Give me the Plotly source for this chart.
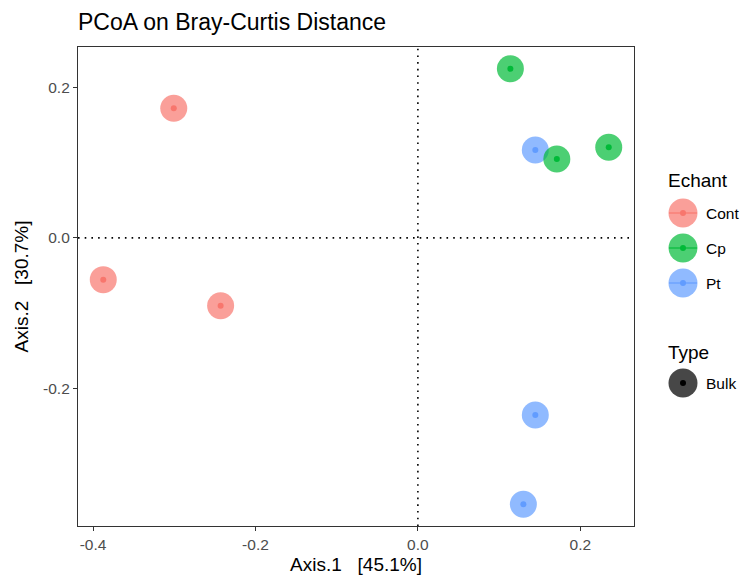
import plotly.graph_objects as go

# PCoA coordinates per sample group
groups = ["Cont", "Cp", "Pt"]
axis1 = {
    "Cont": [-0.3006, -0.3874, -0.2429],
    "Cp": [0.1139, 0.1711, 0.2350],
    "Pt": [0.1446, 0.1446, 0.1299],
}
axis2 = {
    "Cont": [0.1725, -0.0555, -0.0901],
    "Cp": [0.2249, 0.1049, 0.1205],
    "Pt": [0.1169, -0.2355, -0.3541],
}
type_levels = ["Bulk"]
x_ticks = [-0.4, -0.2, 0.0, 0.2]
x_ticktext = ["-0.4", "-0.2", "0.0", "0.2"]
y_ticks = [-0.2, 0.0, 0.2]
y_ticktext = ["-0.2", "0.0", "0.2"]

colors = {"Cont": (248, 118, 109), "Cp": (0, 186, 56), "Pt": (97, 156, 255)}
ALPHA = 0.7

W, H = 740, 575
ML, MR, MT, MB = 78, 106, 47, 49
PW, PH = W - ML - MR, H - MT - MB
FONT = "Liberation Sans, Arial, sans-serif"


def rgba(c, a):
    return f"rgba({c[0]},{c[1]},{c[2]},{a})"


# axis ranges with ggplot-style 5% expansion
all_x = [v for g in groups for v in axis1[g]]
all_y = [v for g in groups for v in axis2[g]]
dx = (max(all_x) - min(all_x)) * 0.05
dy = (max(all_y) - min(all_y)) * 0.05
xr = [min(all_x) - dx, max(all_x) + dx]
yr = [min(all_y) - dy, max(all_y) + dy]

fig = go.Figure()

# large translucent points, then solid centre dots
draw_order = ["Cont", "Pt", "Cp"]
for g in draw_order:
    fig.add_trace(go.Scatter(
        x=axis1[g], y=axis2[g], mode="markers", name=g, showlegend=False,
        marker=dict(size=27, color=rgba(colors[g], ALPHA), line=dict(width=0)),
        hoverinfo="skip"))
for g in draw_order:
    fig.add_trace(go.Scatter(
        x=axis1[g], y=axis2[g], mode="markers", showlegend=False,
        marker=dict(size=6, color=rgba(colors[g], 1), line=dict(width=0)),
        hovertemplate=g + "<br>Axis.1=%{x}<br>Axis.2=%{y}<extra></extra>"))

DOTTED = dict(color="black", width=1.6, dash="1.6px,5.1px")
shapes = [
    dict(type="line", xref="x", yref="paper", x0=0, x1=0, y0=0, y1=1,
         line=DOTTED, layer="below"),
    dict(type="line", xref="paper", yref="y", x0=0, x1=1, y0=0, y1=0,
         line=DOTTED, layer="below"),
]
annotations = []


def px_to_paper(px, py):
    return (px - ML) / PW, (H - MB - py) / PH


def add_key(cx, cy, d, fill, line_col=None, dot_col=None, dot_d=6):
    x0, y0 = px_to_paper(cx - d / 2, cy + d / 2)
    x1, y1 = px_to_paper(cx + d / 2, cy - d / 2)
    shapes.append(dict(type="circle", xref="paper", yref="paper",
                       x0=x0, x1=x1, y0=y0, y1=y1,
                       fillcolor=fill, line=dict(width=0)))
    if line_col:
        lx0, ly = px_to_paper(cx - 14, cy)
        lx1, _ = px_to_paper(cx + 14, cy)
        shapes.append(dict(type="line", xref="paper", yref="paper",
                           x0=lx0, x1=lx1, y0=ly, y1=ly,
                           line=dict(color=line_col, width=1.6)))
    if dot_col:
        a0, b0 = px_to_paper(cx - dot_d / 2, cy + dot_d / 2)
        a1, b1 = px_to_paper(cx + dot_d / 2, cy - dot_d / 2)
        shapes.append(dict(type="circle", xref="paper", yref="paper",
                           x0=a0, x1=a1, y0=b0, y1=b1,
                           fillcolor=dot_col, line=dict(width=0)))


def add_text(px, py, text, size):
    x, y = px_to_paper(px, py)
    annotations.append(dict(xref="paper", yref="paper", x=x, y=y, text=text,
                            showarrow=False, xanchor="left", yanchor="middle",
                            font=dict(family=FONT, size=size, color="black")))


# legend: Echant
add_text(666, 180, "Echant", 19)
for i, g in enumerate(groups):
    cy = 213 + i * 35
    add_key(683, cy, 29, rgba(colors[g], ALPHA), rgba(colors[g], ALPHA),
            rgba(colors[g], 1))
    add_text(704, cy, g, 15.5)

# legend: Type
add_text(666, 352, "Type", 19)
for i, t in enumerate(type_levels):
    cy = 383 + i * 35
    add_key(683, cy, 29, "rgba(51,51,51,0.9)", None, "black")
    add_text(704, cy, t, 15.5)

axis_common = dict(showline=True, mirror=True, linecolor="#333333", linewidth=1.2,
                   ticks="outside", ticklen=4, tickcolor="#333333", tickwidth=1.2,
                   showgrid=False, zeroline=False, automargin=False,
                   tickfont=dict(family=FONT, size=15.5, color="#4D4D4D"))

fig.update_layout(
    width=W, height=H,
    margin=dict(l=ML, r=MR, t=MT, b=MB),
    paper_bgcolor="white", plot_bgcolor="white",
    title=dict(text="PCoA on Bray-Curtis Distance", x=ML / W, xanchor="left",
               y=1 - 22 / H, yanchor="middle",
               font=dict(family=FONT, size=23, color="black")),
    xaxis=dict(range=xr, tickvals=x_ticks, ticktext=x_ticktext,
               title=dict(text="Axis.1   [45.1%]", standoff=6,
                          font=dict(family=FONT, size=19, color="black")),
               **axis_common),
    yaxis=dict(range=yr, tickvals=y_ticks, ticktext=y_ticktext,
               title=dict(text="Axis.2   [30.7%]", standoff=9,
                          font=dict(family=FONT, size=19, color="black")),
               **axis_common),
    shapes=shapes, annotations=annotations, showlegend=False,
)

fig.write_html("out.html")
